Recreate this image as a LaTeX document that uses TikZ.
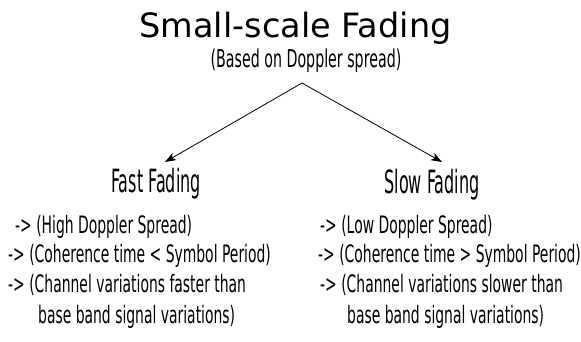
\documentclass[tikz,border=0pt]{standalone}
\usepackage{fontspec}
\usetikzlibrary{arrows.meta}
\newfontfamily\titlefont{DejaVu Sans}
\newfontfamily\rowfont[FakeStretch=0.58]{DejaVu Sans}
\newfontfamily\basedfont[FakeStretch=0.58]{DejaVu Sans}
\newfontfamily\headfont[FakeStretch=0.5]{DejaVu Sans}
\begin{document}
\begin{tikzpicture}[x=1pt,y=1pt,
  title/.style={inner sep=0pt, anchor=base, font=\titlefont\fontsize{33.5}{36}\selectfont},
  sub/.style={inner sep=0pt, anchor=base, font=\basedfont\fontsize{24.5}{27}\selectfont},
  head/.style={inner sep=0pt, anchor=base, font=\headfont\fontsize{32}{35}\selectfont},
  row/.style={inner sep=0pt, anchor=base west, font=\rowfont\fontsize{24}{27}\selectfont},
  link/.style={line width=0.8pt, -{Stealth[length=11pt,width=8pt,inset=3pt]}}]
\useasboundingbox (0,0) rectangle (581,341);
\node[title] (title) at (295.5,304) {Small-scale Fading};
\node[sub] (based) at (306,273) {(Based on Doppler spread)};
\node[head] (fast) at (156,149) {Fast Fading};
\node[head] (slow) at (432,148) {Slow Fading};
\node[row] (f1) at (15,108) {-> (High Doppler Spread)};
\node[row] (f2) at (8,79) {-> (Coherence time < Symbol Period)};
\node[row] (f3) at (8,49) {-> (Channel variations faster than};
\node[row] (f4) at (38,18) {base band signal variations)};
\node[row] (s1) at (320,108) {-> (Low Doppler Spread)};
\node[row] (s2) at (318,79) {-> (Coherence time > Symbol Period)};
\node[row] (s3) at (320,49) {-> (Channel variations slower than};
\node[row] (s4) at (347,18) {base band signal variations)};
\coordinate (apex) at (302,258);
\coordinate (fasttip) at (165,179);
\coordinate (slowtip) at (442,179);
\draw[link] (apex) -- (fasttip);
\draw[link] (apex) -- (slowtip);
\end{tikzpicture}
\end{document}
